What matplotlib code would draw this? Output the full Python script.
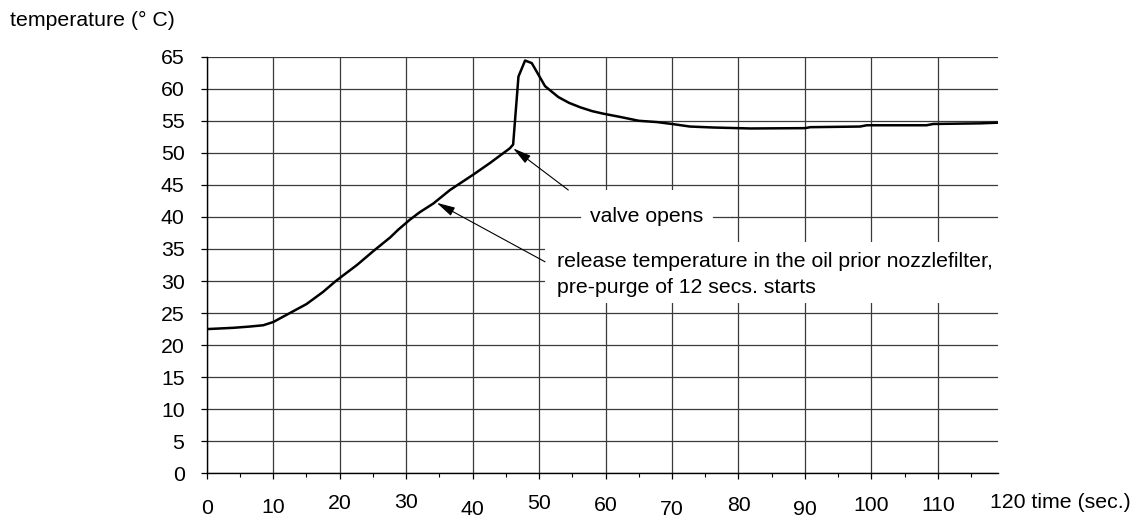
import matplotlib.pyplot as plt
from matplotlib.patches import Rectangle

plt.rcParams["font.family"] = ["Liberation Sans", "DejaVu Sans"]

# time (sec.) and oil temperature (deg C)
time_s = [0, 2, 4, 6.5, 8.5, 10, 12.5, 15, 17.5, 19.3, 20.3, 22.6, 25.1, 27.6,
          28.8, 30.6, 32, 34.1, 36.6, 40.1, 42.6, 45.6, 46.1, 46.9, 47.9, 48.9,
          49.9, 50.9, 52.9, 54.5, 56.2, 58, 59.7, 62.2, 65, 67.7, 70, 72.7,
          76.2, 81.8, 90, 90.8, 98.3, 99.3, 108.3, 109.3, 116.4, 119]
temp_c = [22.5, 22.6, 22.7, 22.9, 23.1, 23.6, 25.0, 26.4, 28.3, 29.9, 30.7,
          32.5, 34.7, 36.8, 38.0, 39.6, 40.7, 42.1, 44.2, 46.6, 48.4, 50.7,
          51.3, 61.9, 64.4, 64.0, 62.2, 60.4, 58.7, 57.8, 57.1, 56.5, 56.1,
          55.6, 55.0, 54.8, 54.5, 54.1, 53.95, 53.8, 53.85, 54.0, 54.1, 54.3,
          54.3, 54.5, 54.6, 54.7]

x_ticks = list(range(0, 120, 10))
x_labels = [str(v) for v in x_ticks]
y_ticks = list(range(0, 70, 5))

# staggered x label heights (pixels below the axis), as in the original
label_drop_px = [35, 34, 30, 29, 36, 30, 32, 36, 32, 36, 32, 32]

FS = 15.3

fig = plt.figure(figsize=(11.31, 5.19), dpi=100)
ax = fig.add_axes([0.1828, 0.0880, 0.6993, 0.8028])
ax.set_xlim(0, 119)
ax.set_ylim(0, 65)

grid_kw = dict(color="#3a3a3a", lw=0.9)
ax.set_xticks(x_ticks)
ax.set_xticks(list(range(5, 120, 10)), minor=True)
ax.set_yticks(y_ticks)
ax.grid(True, which="major", **grid_kw)
ax.set_axisbelow(True)
ax.tick_params(axis="x", which="both", direction="out", labelbottom=False,
               color="black")
ax.tick_params(axis="x", which="major", length=4, width=0.9)
ax.tick_params(axis="x", which="minor", length=3, width=0.8)
ax.tick_params(axis="y", direction="out", length=4, width=0.9, pad=12,
               labelsize=FS)
for s in ("top", "right"):
    ax.spines[s].set_visible(False)
for s in ("left", "bottom"):
    ax.spines[s].set_linewidth(1.0)

# white label boxes that cut the grid
ax.add_patch(Rectangle((50.9, 36.1), 28.1, 8.1, facecolor="white",
                       edgecolor="none", zorder=1))
ax.add_patch(Rectangle((50.9, 26.6), 70, 9.5, facecolor="white",
                       edgecolor="none", zorder=1, clip_on=False))
ax.plot([50.9, 56.2], [40, 40], zorder=2, **grid_kw)
ax.plot([76.2, 79.0], [40, 40], zorder=2, **grid_kw)

ax.plot(time_s, temp_c, color="black", lw=1.8, zorder=3)

ax.text(66.2, 40, "valve opens", fontsize=FS, ha="center", va="center",
        zorder=4)
ax.text(52.7, 33.0, "release temperature in the oil prior nozzlefilter,",
        fontsize=FS, ha="left", va="center", zorder=4, clip_on=False)
ax.text(52.7, 29.0, "pre-purge of 12 secs. starts",
        fontsize=FS, ha="left", va="center", zorder=4)

arrow_kw = dict(arrowstyle="-|>,head_length=0.8,head_width=0.2", lw=0.8,
                color="black", mutation_scale=14, shrinkA=0, shrinkB=0)
ax.annotate("", xy=(46.1, 50.7), xytext=(54.4, 44.2), arrowprops=arrow_kw,
            zorder=4)
ax.annotate("", xy=(34.6, 42.2), xytext=(50.9, 33.0), arrowprops=arrow_kw,
            zorder=4)

# x tick labels placed by hand to keep the stagger
for v, lab, drop in zip(x_ticks, x_labels, label_drop_px):
    ax.annotate(lab, xy=(v, 0), xycoords=("data", "axes fraction"),
                xytext=(0, -drop), textcoords="offset pixels",
                ha="center", va="center", fontsize=FS)
ax.annotate("120 time (sec.)", xy=(117.9, 0),
            xycoords=("data", "axes fraction"), xytext=(0, -29),
            textcoords="offset pixels", ha="left", va="center", fontsize=FS,
            annotation_clip=False)

fig.text(10 / 1131, 1 - 20 / 519, "temperature (° C)", fontsize=FS,
         ha="left", va="center")

fig.savefig("out.png", dpi=100)
